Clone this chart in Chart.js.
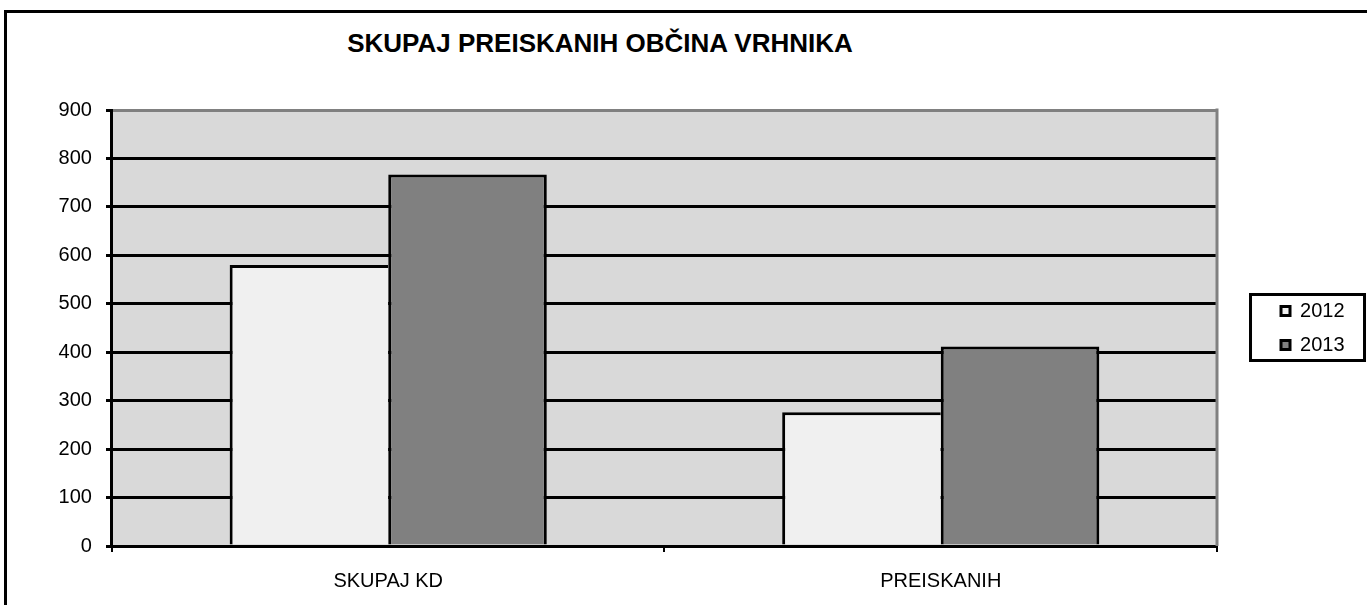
<!DOCTYPE html>
<html>
<head>
<meta charset="utf-8">
<script src="https://cdn.jsdelivr.net/npm/chart.js@4.4.1/dist/chart.umd.min.js"></script>
<style>
  html, body { margin: 0; padding: 0; background: #fff; overflow: hidden; }
  #wrap { position: relative; width: 1367px; height: 605px; overflow: hidden; }
  #frame { position: absolute; left: 4px; top: 10px; width: 1400px; height: 700px;
           border-left: 3px solid #000; border-top: 3px solid #000; }
  #title { position: absolute; left: 0; top: 28px; width: 1200px; text-align: center;
           font: bold 26px/30px 'Liberation Sans', Arial, sans-serif; color: #000; }
  canvas { position: absolute; left: 0; top: 0; }
</style>
</head>
<body>
<div id="wrap">
  <div id="frame"></div>
  <div id="title">SKUPAJ PREISKANIH OBČINA VRHNIKA</div>
  <canvas id="chart" width="1367" height="605"></canvas>
</div>
<script>
// values
const categories = ['SKUPAJ KD', 'PREISKANIH'];
const values2012 = [580, 276];
const values2013 = [767, 412];
const seriesNames = ['2012', '2013'];
const yMin = 0;
const yMax = 900;
const yStep = 100;

Chart.defaults.font.family = "'Liberation Sans', Arial, sans-serif";
Chart.defaults.color = '#000';

// grey plot area with a grey right edge, like the Excel original
const plotBackground = {
    id: 'plotBackground',
    beforeDraw(chart) {
        const { ctx, chartArea: a } = chart;
        ctx.save();
        ctx.fillStyle = '#D9D9D9';
        ctx.fillRect(a.left, a.top, a.right - a.left, a.bottom - a.top);
        ctx.restore();
    },
    beforeDatasetsDraw(chart) {
        const { ctx, chartArea: a } = chart;
        ctx.save();
        ctx.strokeStyle = '#808080';
        ctx.lineWidth = 3;
        ctx.beginPath();
        ctx.moveTo(a.right, a.top - 1.5);
        ctx.lineTo(a.right, a.bottom);
        ctx.stroke();
        ctx.restore();
    }
};

// move the legend away from the plot, centre it on the plot height, frame it
const legendFrame = {
    id: 'legendFrame',
    afterLayout(chart) {
        const lg = chart.legend;
        const w = lg.right - lg.left;
        lg.left = chart.chartArea.right + 50;
        lg.right = lg.left + w;
        lg.top = chart.chartArea.top;
        lg.bottom = chart.chartArea.bottom;
        lg.height = lg.bottom - lg.top;
    },
    afterDraw(chart) {
        const lg = chart.legend;
        const hb = lg.legendHitBoxes;
        if (!hb || !hb.length) return;
        const last = hb[hb.length - 1];
        const x0 = lg.left - 18, x1 = lg.left + 99;
        const y0 = hb[0].top - 8, y1 = last.top + last.height + 7;
        const ctx = chart.ctx;
        ctx.save();
        ctx.strokeStyle = '#000';
        ctx.lineWidth = 3;
        ctx.strokeRect(x0 + 1.5, y0 + 1.5, x1 - x0 - 3, y1 - y0 - 3);
        ctx.restore();
    }
};

const ctx = document.getElementById('chart').getContext('2d');

const data = {
    labels: categories,
    datasets: [{
        label: seriesNames[0],
        data: values2012,
        backgroundColor: '#F0F0F0',
        borderColor: '#000',
        borderWidth: { top: 3, left: 3, right: 0, bottom: 0 }
    }, {
        label: seriesNames[1],
        data: values2013,
        backgroundColor: '#808080',
        borderColor: '#000',
        borderWidth: { top: 3, left: 3, right: 3, bottom: 0 }
    }]
};

const config = {
    type: 'bar',
    data: data,
    options: {
        responsive: false,
        animation: false,
        categoryPercentage: 0.574,
        barPercentage: 1.0,
        layout: {
            padding: { left: 44.6, right: 62.5, top: 110, bottom: -5 }
        },
        plugins: {
            title: { display: false },
            tooltip: { enabled: false },
            legend: {
                position: 'right',
                align: 'center',
                labels: {
                    font: { size: 20 },
                    color: '#000',
                    boxWidth: 9,
                    boxHeight: 9,
                    padding: 14,
                    generateLabels(chart) {
                        return Chart.defaults.plugins.legend.labels.generateLabels(chart)
                            .map(l => Object.assign(l, { lineWidth: 3, strokeStyle: '#000' }));
                    }
                }
            }
        },
        scales: {
            x: {
                ticks: { padding: 17, font: { size: 20 }, color: '#000', maxRotation: 0 },
                grid: { offset: true, drawOnChartArea: false, tickLength: 6, color: '#000', lineWidth: 2 },
                border: { color: '#000', width: 3 }
            },
            y: {
                min: yMin,
                max: yMax,
                ticks: { stepSize: yStep, padding: 14, font: { size: 20 }, color: '#000' },
                grid: {
                    color: c => (c.tick && c.tick.value === yMax) ? '#808080' : '#000',
                    lineWidth: 3,
                    tickLength: 6,
                    tickColor: '#000',
                    tickWidth: 3
                },
                border: { color: '#000', width: 3 }
            }
        }
    },
    plugins: [plotBackground, legendFrame]
};

const skupajChart = new Chart(ctx, config);
</script>
</body>
</html>
